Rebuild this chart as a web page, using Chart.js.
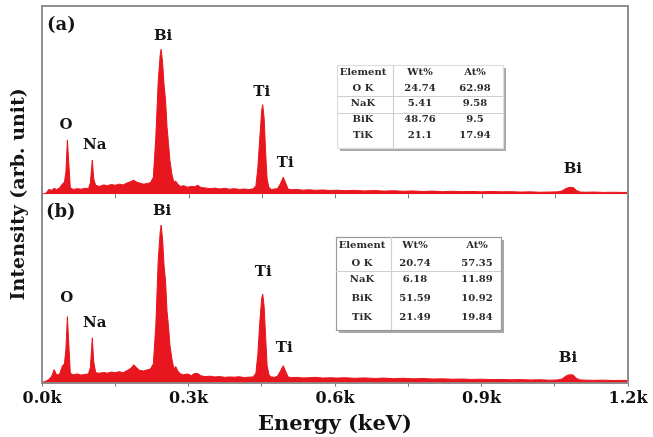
<!DOCTYPE html>
<html>
<head>
<meta charset="utf-8">
<script src="https://cdn.jsdelivr.net/npm/chart.js@4.4.1/dist/chart.umd.min.js"></script>
<style>
  body { margin: 0; background: #fff; }
  #wrap { width: 653px; height: 437px; }
</style>
</head>
<body>
<div id="wrap"><canvas id="edsChart" width="653" height="437"></canvas></div>
<script>
// energy channels (same for both spectra)
const energy = [0, 8, 14, 20, 25, 30, 36, 42, 46, 49, 52, 55, 58, 64, 72, 80, 88, 95, 99, 103,
  106, 110, 118, 126, 134, 142, 150, 158, 166, 174, 182, 188, 193, 200, 208, 216, 222, 228, 233, 238,
  242, 244, 247, 250, 253, 256, 259, 262, 266, 270, 274, 278, 284, 290, 298, 306, 312, 319, 326, 334,
  344, 354, 364, 374, 384, 394, 404, 414, 424, 432, 438, 442, 446, 450, 452, 455, 458, 461, 465, 470,
  476, 482, 488, 494, 499, 504, 512, 522, 534, 546, 560, 575, 590, 605, 620, 640, 660, 680, 700, 720,
  740, 760, 780, 800, 820, 840, 860, 880, 900, 920, 940, 960, 980, 1000, 1020, 1040, 1055, 1065, 1072, 1080,
  1088, 1095, 1102, 1115, 1130, 1150, 1170, 1185, 1200];

// spectrum (a)
const countsA = [0, 0.6, 2.6, 2.2, 3.2, 2.5, 3.4, 5.6, 6.5, 12, 28.9, 16, 3.5, 2.6, 3.0, 2.7, 3.2, 3.0, 6, 18.2,
  8, 4.8, 4.2, 5.0, 4.6, 5.2, 4.8, 5.4, 5.0, 6.0, 6.8, 7.5, 6.6, 6.0, 5.4, 5.8, 6.2, 9, 30, 60,
  74, 77, 70, 58, 50, 36, 27, 18, 10.7, 6.5, 7.0, 5.4, 4.2, 4.6, 3.8, 4.2, 4.0, 4.8, 3.6, 3.4,
  3.0, 3.3, 2.8, 3.2, 2.7, 3.0, 2.6, 2.8, 2.5, 2.9, 4.5, 14, 30, 45, 47.6, 40, 22, 8, 3.5, 2.6,
  2.8, 3.0, 5.5, 9.1, 6.0, 2.8, 2.4, 2.6, 2.2, 2.4, 2.1, 2.3, 2.0, 2.2, 1.9, 2.1, 1.8, 2.0, 1.7, 1.9,
  1.6, 1.8, 1.5, 1.7, 1.4, 1.6, 1.4, 1.5, 1.3, 1.5, 1.3, 1.4, 1.2, 1.3, 1.1, 1.2, 1.3, 1.8, 3.0, 3.7,
  3.6, 2.0, 1.2, 1.1, 1.2, 1.0, 1.1, 1.0, 1.0];

// spectrum (b)
const countsB = [0, 0.8, 1.6, 3.5, 6.9, 4.0, 4.5, 9.0, 10, 18, 35, 20, 5.0, 4.2, 4.6, 4.0, 4.4, 4.6, 8, 23.8,
  11, 5.2, 5.0, 5.4, 5.0, 5.6, 5.3, 5.8, 5.2, 6.4, 7.6, 9.5, 8.2, 6.5, 6.2, 6.8, 7.2, 10, 30, 65,
  80, 83.6, 76, 62, 54, 38, 30, 20, 12.7, 7.5, 8.5, 6.2, 4.6, 4.2, 4.6, 3.8, 4.8, 4.8, 3.6, 3.2,
  3.4, 3.0, 3.2, 2.8, 3.0, 2.9, 3.1, 2.7, 2.9, 3.0, 5.0, 15, 32, 45, 47, 40, 24, 9, 4, 3.0,
  2.8, 3.4, 6, 9.0, 6.0, 3.0, 2.6, 2.8, 2.5, 2.6, 2.8, 2.4, 2.6, 2.4, 2.6, 2.3, 2.5, 2.2, 2.4, 2.1,
  2.3, 2.0, 2.2, 1.9, 2.0, 1.8, 1.9, 1.7, 1.8, 1.6, 1.7, 1.5, 1.6, 1.4, 1.5, 1.3, 1.4, 1.9, 3.4, 4.2,
  4.0, 2.2, 1.4, 1.3, 1.2, 1.3, 1.1, 1.2, 1.1];

const tickLabels = ['0.0k', '0.3k', '0.6k', '0.9k', '1.2k'];

// peak labels
const peakNames = ['O', 'Na', 'Bi', 'Ti', 'Ti', 'Bi'];
const peakAtA = [[49, 37], [108, 26], [248, 84], [450, 54.5], [498, 16.6], [1087, 13.4]];
const peakAtB = [[51, 45], [108, 31.7], [246, 91], [453, 58.7], [496, 18.5], [1077, 13.2]];

// composition tables
const tableHead = ['Element', 'Wt%', 'At%'];
const tableRows = ['O K', 'NaK', 'BiK', 'TiK'];
const wtA = ['24.74', '5.41', '48.76', '21.1'];
const atA = ['62.98', '9.58', '9.5', '17.94'];
const wtB = ['20.74', '6.18', '51.59', '21.49'];
const atB = ['57.35', '11.89', '10.92', '19.84'];

const RED = '#e8161e';
const SERIF = '"DejaVu Serif", "Liberation Serif", serif';

function xy(xs, ys) {
  return xs.map((e, i) => ({ x: e, y: ys[i] }));
}

function drawTable(ctx, box, wt, at) {
  const { left, top, w, h, rowsY, colX, split, lines, dark } = box;
  ctx.save();
  // shadow right/bottom
  ctx.fillStyle = '#a8a8a8';
  ctx.fillRect(left + 3, top + h, w, 3);
  ctx.fillRect(left + w, top + 3, 3, h);
  ctx.fillStyle = '#fff';
  ctx.fillRect(left, top, w, h);
  ctx.strokeStyle = dark ? '#999' : '#ddd';
  ctx.lineWidth = 1.2;
  ctx.strokeRect(left + 0.5, top + 0.5, w, h);
  ctx.strokeStyle = '#cfcfcf';
  ctx.beginPath();
  ctx.moveTo(left + split + 0.5, top);
  ctx.lineTo(left + split + 0.5, top + h);
  lines.forEach(ly => {
    ctx.moveTo(left, top + ly + 0.5);
    ctx.lineTo(left + w, top + ly + 0.5);
  });
  ctx.stroke();
  ctx.fillStyle = '#2a2a2a';
  ctx.font = 'bold 10px ' + SERIF;
  ctx.textAlign = 'center';
  ctx.textBaseline = 'middle';
  tableHead.forEach((t, j) => ctx.fillText(t, left + colX[j], top + rowsY[0]));
  tableRows.forEach((r, i) => {
    const y = top + rowsY[i + 1];
    ctx.fillText(r, left + colX[0], y);
    ctx.fillText(wt[i], left + colX[1], y);
    ctx.fillText(at[i], left + colX[2], y);
  });
  ctx.restore();
}

const decorPlugin = {
  id: 'decor',
  afterDatasetsDraw(chart) {
    const { ctx, chartArea: ca, scales } = chart;
    const x = scales.x, yA = scales.yA, yB = scales.yB;
    ctx.save();

    // frame (left, top, right)
    ctx.strokeStyle = '#8e8e8e';
    ctx.lineWidth = 2;
    ctx.beginPath();
    ctx.moveTo(ca.left, ca.bottom);
    ctx.lineTo(ca.left, ca.top);
    ctx.lineTo(ca.right, ca.top);
    ctx.lineTo(ca.right, ca.bottom);
    ctx.stroke();

    // ticks under the upper spectrum
    ctx.strokeStyle = '#777';
    ctx.lineWidth = 1;
    ctx.beginPath();
    x.ticks.forEach(t => {
      const px = Math.round(x.getPixelForValue(t.value)) + 0.5;
      ctx.moveTo(px, yA.bottom);
      ctx.lineTo(px, yA.bottom + 4);
    });
    ctx.stroke();

    // peak labels
    ctx.fillStyle = '#151515';
    ctx.textAlign = 'center';
    ctx.textBaseline = 'middle';
    ctx.font = 'bold 15px ' + SERIF;
    peakNames.forEach((n, i) => {
      ctx.fillText(n, x.getPixelForValue(peakAtA[i][0]), yA.getPixelForValue(peakAtA[i][1]));
      ctx.fillText(n, x.getPixelForValue(peakAtB[i][0]), yB.getPixelForValue(peakAtB[i][1]));
    });

    // panel tags
    ctx.font = 'bold 18px ' + SERIF;
    ctx.textAlign = 'left';
    ctx.fillText('(a)', ca.left + 5, yA.top + 19);
    ctx.fillText('(b)', ca.left + 4, yB.top + 18);

    // axis title
    ctx.save();
    ctx.translate(19, (ca.top + ca.bottom) / 2);
    ctx.rotate(-Math.PI / 2);
    ctx.textAlign = 'center';
    ctx.font = 'bold 19px ' + SERIF;
    ctx.fillText('Intensity (arb. unit)', 0, 0);
    ctx.restore();

    drawTable(ctx, { left: 337, top: 65, w: 166, h: 83, rowsY: [7, 23, 38, 54, 70],
      colX: [26, 83, 138], split: 56, lines: [31, 48], dark: false }, wtA, atA);
    drawTable(ctx, { left: 336, top: 237, w: 165, h: 93, rowsY: [8, 26, 42, 61, 80],
      colX: [26, 79, 141], split: 55, lines: [34], dark: true }, wtB, atB);

    ctx.restore();
  }
};

const hiddenY = {
  type: 'linear',
  min: 0,
  max: 100,
  position: 'left',
  stack: 'panels',
  stackWeight: 1,
  ticks: { display: false },
  grid: { display: false, drawTicks: false },
  border: { display: false }
};

const config = {
  type: 'line',
  data: {
    datasets: [
      { label: '(a)', data: xy(energy, countsA), yAxisID: 'yA' },
      { label: '(b)', data: xy(energy, countsB), yAxisID: 'yB' }
    ]
  },
  options: {
    responsive: false,
    animation: false,
    parsing: false,
    layout: { padding: { left: 42, right: 25, top: 6, bottom: 0 } },
    elements: {
      line: { borderColor: RED, backgroundColor: RED, borderWidth: 1, tension: 0, fill: 'origin' },
      point: { radius: 0 }
    },
    plugins: { legend: { display: false }, tooltip: { enabled: false } },
    scales: {
      x: {
        type: 'linear',
        min: 0,
        max: 1200,
        ticks: {
          stepSize: 150,
          autoSkip: false,
          maxRotation: 0,
          padding: 3,
          color: '#111',
          font: { family: SERIF, size: 16, weight: 'bold' },
          callback: (v) => (v % 300 === 0 ? tickLabels[v / 300] : '')
        },
        grid: { display: true, drawOnChartArea: false, drawTicks: true, tickLength: 4, color: '#777' },
        border: { display: true, color: '#8e8e8e', width: 2 },
        title: {
          display: true,
          text: 'Energy (keV)',
          color: '#111',
          padding: { top: 0, bottom: 0 },
          font: { family: SERIF, size: 21, weight: 'bold' }
        }
      },
      // left-hand stacked axes are laid out last-first, so the lower panel is listed first
      yB: Object.assign({}, hiddenY),
      yA: Object.assign({}, hiddenY)
    }
  },
  plugins: [decorPlugin]
};

const edsChart = new Chart(document.getElementById('edsChart'), config);
</script>
</body>
</html>
